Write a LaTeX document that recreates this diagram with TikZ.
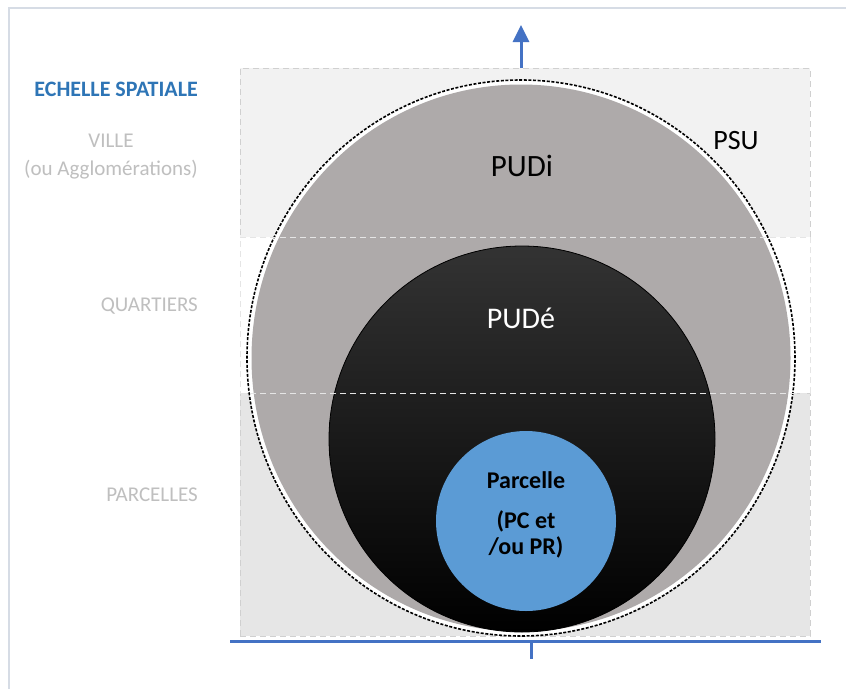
\documentclass[tikz,border=0pt]{standalone}
\usepackage{fontspec}
\setmainfont{Carlito}
\usetikzlibrary{arrows.meta,shapes.geometric}
\definecolor{axisblue}{HTML}{4472C4}
\definecolor{titleblue}{HTML}{2E75B6}
\definecolor{labelgray}{HTML}{BFBFBF}
\definecolor{framecol}{HTML}{D6DCE5}
\definecolor{bandtop}{HTML}{F2F2F2}
\definecolor{bandbot}{HTML}{E6E6E6}
\definecolor{bandline}{HTML}{D0D0D0}
\definecolor{pudigray}{HTML}{AEAAAA}
\definecolor{parcblue}{HTML}{5B9BD5}
\tikzset{
  band/.style={draw=bandline, dash pattern=on 6pt off 4pt, line width=0.8pt, inner sep=0pt, outer sep=0pt, anchor=north west, minimum width=570pt},
  sidelabel/.style={text=labelgray, font=\fontsize{21}{28}\selectfont, align=center, anchor=east, inner sep=0pt},
  axisline/.style={draw=axisblue, line width=3pt},
  blob/.style={inner sep=0pt, outer sep=0pt},
}
\begin{document}
\begin{tikzpicture}[x=1pt,y=-1pt]
\useasboundingbox (0,0) rectangle (846,689);
\fill[white] (0,0) rectangle (846,689);
% frame
\coordinate (fbl) at (9,689);
\coordinate (ftl) at (9,8);
\coordinate (ftr) at (846,8);
\draw[framecol, line width=1.5pt] (fbl) -- (ftl) -- (ftr);
% bands
\node[band, fill=bandtop, minimum height=169pt] (villeband) at (240,68) {};
\node[band, fill=bandbot, minimum height=243pt] (parcband) at (240,393) {};
% circles
\node[ellipse, blob, draw=black, line width=1.6pt, dash pattern=on 3pt off 1.6pt, fill=white, minimum width=548pt, minimum height=556pt] (psu) at (521,358) {};
\node[ellipse, blob, fill=pudigray, minimum width=539pt, minimum height=547pt] (pudi) at (521,358) {};
\node[circle, blob, draw=black, line width=0.8pt, top color=black!80, middle color=black, bottom color=black, minimum size=386pt] (pude) at (522,439) {};
\node[circle, blob, fill=parcblue, minimum size=180pt] (parc) at (526,521) {};
% middle band border (on top)
\node[band, draw=white!90!black, minimum height=156pt] (quartband) at (240,237) {};
% axes
\coordinate (ybot) at (521,68);
\coordinate (ytop) at (521,25);
\draw[axisline, -{Triangle[width=16pt,length=17pt]}] (ybot) -- (ytop);
\coordinate (xl) at (230,641);
\coordinate (xr) at (821,641);
\draw[axisline] (xl) -- (xr);
\coordinate (tk1) at (531,641);
\coordinate (tk2) at (531,659);
\draw[axisline] (tk1) -- (tk2);
% labels
\node[anchor=east, inner sep=0pt, text=titleblue, font=\fontsize{22}{26}\selectfont\bfseries] (echelle) at (198,89) {ECHELLE SPATIALE};
\node[sidelabel] (ville) at (198,157) {VILLE\\(ou Agglomérations)};
\node[sidelabel] (quart) at (198,306) {QUARTIERS};
\node[sidelabel] (parcl) at (198,495) {PARCELLES};
\node[font=\fontsize{28}{32}\selectfont, inner sep=0pt] (psut) at (736,141) {PSU};
\node[font=\fontsize{31}{36}\selectfont, inner sep=0pt] (pudit) at (522,166) {PUDi};
\node[font=\fontsize{30}{34}\selectfont, text=white, inner sep=0pt] (pudet) at (521,318) {PUDé};
\node[font=\fontsize{24}{26}\selectfont\bfseries, inner sep=0pt, align=center] (parct) at (526,480) {Parcelle};
\node[font=\fontsize{24}{26}\selectfont\bfseries, inner sep=0pt, align=center] (parct2) at (526,534) {(PC et\\/ou PR)};
\end{tikzpicture}
\end{document}
